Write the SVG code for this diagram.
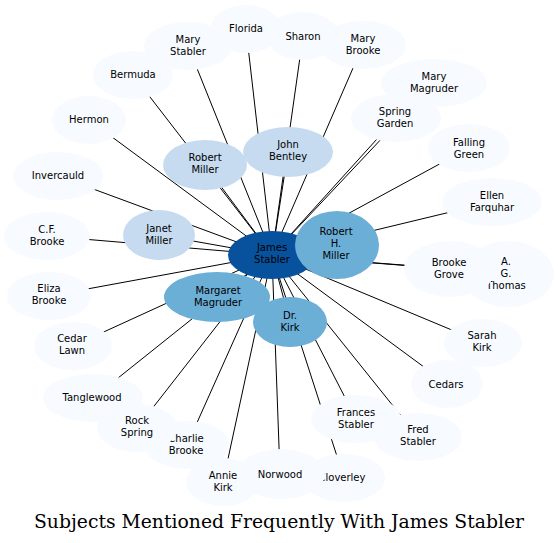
<svg xmlns="http://www.w3.org/2000/svg" width="559" height="543" viewBox="0 0 559 543">
<style>
.e line{stroke:#000;stroke-width:1}
.n ellipse{stroke:none}
.l0{fill:#f7fbff}
.l1{fill:#c6dbef}
.l2{fill:#6baed6}
.l3{fill:#08519c}
text{font-family:"DejaVu Sans","Noto Sans",sans-serif;font-size:10px;fill:#000;text-anchor:middle}
.title{font-family:"DejaVu Serif","Liberation Serif",serif;font-size:18px}
</style>
<rect width="559" height="543" fill="#fff"/>
<g id="edges" class="e">
<line x1="272" y1="255" x2="246" y2="29"/>
<line x1="272" y1="255" x2="188" y2="46"/>
<line x1="272" y1="255" x2="133" y2="75"/>
<line x1="272" y1="255" x2="89" y2="120"/>
<line x1="272" y1="255" x2="58" y2="176"/>
<line x1="272" y1="255" x2="47" y2="236"/>
<line x1="272" y1="255" x2="49" y2="296"/>
<line x1="272" y1="255" x2="73" y2="346"/>
<line x1="272" y1="255" x2="93" y2="398"/>
<line x1="272" y1="255" x2="137" y2="428"/>
<line x1="272" y1="255" x2="187" y2="445"/>
<line x1="272" y1="255" x2="223" y2="482"/>
<line x1="272" y1="255" x2="280" y2="474"/>
<line x1="272" y1="255" x2="344" y2="478"/>
<line x1="272" y1="255" x2="356" y2="419"/>
<line x1="272" y1="255" x2="418" y2="437"/>
<line x1="272" y1="255" x2="447" y2="384"/>
<line x1="272" y1="255" x2="483" y2="343"/>
<line x1="272" y1="255" x2="450" y2="269"/>
<line x1="272" y1="255" x2="507" y2="273"/>
<line x1="272" y1="255" x2="492" y2="202"/>
<line x1="272" y1="255" x2="469" y2="148"/>
<line x1="272" y1="255" x2="396" y2="118"/>
<line x1="272" y1="255" x2="434" y2="83"/>
<line x1="272" y1="255" x2="363" y2="45"/>
<line x1="272" y1="255" x2="303" y2="36"/>
<line x1="272" y1="255" x2="288" y2="152"/>
<line x1="272" y1="255" x2="205" y2="165"/>
<line x1="272" y1="255" x2="159" y2="235"/>
<line x1="272" y1="255" x2="217" y2="297"/>
<line x1="272" y1="255" x2="290" y2="322"/>
<line x1="272" y1="255" x2="337" y2="245"/>
</g>
<g class="n">
<g id="n-mary-stabler"><ellipse class="l0" cx="188" cy="46" rx="44" ry="24"/><text x="188" y="43">Mary</text><text x="188" y="55">Stabler</text></g>
<g id="n-florida"><ellipse class="l0" cx="246" cy="29" rx="36" ry="24"/><text x="246" y="32">Florida</text></g>
<g id="n-sharon"><ellipse class="l0" cx="303" cy="36" rx="36" ry="24"/><text x="303" y="40">Sharon</text></g>
<g id="n-mary-brooke"><ellipse class="l0" cx="363" cy="45" rx="43" ry="24"/><text x="363" y="42">Mary</text><text x="363" y="54">Brooke</text></g>
<g id="n-bermuda"><ellipse class="l0" cx="133" cy="75" rx="40" ry="24"/><text x="133" y="78">Bermuda</text></g>
<g id="n-hermon"><ellipse class="l0" cx="89" cy="120" rx="37" ry="24"/><text x="89" y="123">Hermon</text></g>
<g id="n-invercauld"><ellipse class="l0" cx="58" cy="176" rx="45" ry="24"/><text x="58" y="179">Invercauld</text></g>
<g id="n-mary-magruder"><ellipse class="l0" cx="434" cy="83" rx="53" ry="24"/><text x="434" y="80">Mary</text><text x="434" y="92">Magruder</text></g>
<g id="n-spring-garden"><ellipse class="l0" cx="396" cy="118" rx="45" ry="24"/><text x="395" y="115">Spring</text><text x="395" y="127">Garden</text></g>
<g id="n-falling-green"><ellipse class="l0" cx="469" cy="148" rx="41" ry="24"/><text x="469" y="146">Falling</text><text x="469" y="158">Green</text></g>
<g id="n-ellen-farquhar"><ellipse class="l0" cx="492" cy="202" rx="50" ry="24"/><text x="492" y="199">Ellen</text><text x="492" y="211">Farquhar</text></g>
<g id="n-cf-brooke"><ellipse class="l0" cx="47" cy="236" rx="43" ry="24"/><text x="47" y="233">C.F.</text><text x="47" y="245">Brooke</text></g>
<g id="n-eliza-brooke"><ellipse class="l0" cx="49" cy="296" rx="42" ry="24"/><text x="49" y="292">Eliza</text><text x="49" y="304">Brooke</text></g>
<g id="n-ag-thomas"><ellipse class="l0" cx="508" cy="274" rx="46" ry="33"/><text x="506" y="265">A.</text><text x="506" y="277">G.</text><text x="506" y="289">Thomas</text></g>
<g id="n-brooke-grove"><ellipse class="l0" cx="450" cy="269" rx="46" ry="28"/><text x="449" y="266">Brooke</text><text x="449" y="278">Grove</text></g>
<g id="n-sarah-kirk"><ellipse class="l0" cx="483" cy="343" rx="39" ry="24"/><text x="482" y="339">Sarah</text><text x="482" y="351">Kirk</text></g>
<g id="n-cedar-lawn"><ellipse class="l0" cx="73" cy="346" rx="39" ry="24"/><text x="72" y="342">Cedar</text><text x="72" y="354">Lawn</text></g>
<g id="n-cedars"><ellipse class="l0" cx="447" cy="384" rx="36" ry="24"/><text x="446" y="388">Cedars</text></g>
<g id="n-tanglewood"><ellipse class="l0" cx="93" cy="398" rx="50" ry="24"/><text x="92" y="401">Tanglewood</text></g>
<g id="n-frances-stabler"><ellipse class="l0" cx="356" cy="419" rx="45" ry="24"/><text x="356" y="416">Frances</text><text x="356" y="428">Stabler</text></g>
<g id="n-fred-stabler"><ellipse class="l0" cx="418" cy="437" rx="44" ry="24"/><text x="418" y="433">Fred</text><text x="418" y="445">Stabler</text></g>
<g id="n-charlie-brooke"><ellipse class="l0" cx="187" cy="445" rx="42" ry="24"/><text x="186" y="442">Charlie</text><text x="186" y="454">Brooke</text></g>
<g id="n-rock-spring"><ellipse class="l0" cx="137" cy="428" rx="40" ry="24"/><text x="137" y="424">Rock</text><text x="137" y="436">Spring</text></g>
<g id="n-annie-kirk"><ellipse class="l0" cx="223" cy="482" rx="37" ry="24"/><text x="223" y="479">Annie</text><text x="223" y="491">Kirk</text></g>
<g id="n-cloverley"><ellipse class="l0" cx="344" cy="478" rx="41" ry="24"/><text x="342" y="481">Cloverley</text></g>
<g id="n-norwood"><ellipse class="l0" cx="281" cy="474" rx="44" ry="25"/><text x="280" y="478">Norwood</text></g>
<g id="n-robert-miller"><ellipse class="l1" cx="205" cy="165" rx="42" ry="25"/><text x="205" y="161">Robert</text><text x="205" y="173">Miller</text></g>
<g id="n-john-bentley"><ellipse class="l1" cx="288" cy="152" rx="45" ry="25"/><text x="288" y="148">John</text><text x="288" y="160">Bentley</text></g>
<g id="n-janet-miller"><ellipse class="l1" cx="159" cy="235" rx="36" ry="25"/><text x="159" y="232">Janet</text><text x="159" y="244">Miller</text></g>
<g id="n-james-stabler"><ellipse class="l3" cx="272" cy="255" rx="44" ry="24"/><text x="272" y="251">James</text><text x="272" y="263">Stabler</text></g>
<g id="n-margaret-magruder"><ellipse class="l2" cx="217" cy="297" rx="53" ry="25"/><text x="218" y="294">Margaret</text><text x="218" y="306">Magruder</text></g>
<g id="n-dr-kirk"><ellipse class="l2" cx="290" cy="322" rx="37" ry="25"/><text x="290" y="319">Dr.</text><text x="290" y="331">Kirk</text></g>
<g id="n-robert-h-miller"><ellipse class="l2" cx="337" cy="245" rx="42" ry="34"/><text x="336" y="235">Robert</text><text x="336" y="247">H.</text><text x="336" y="259">Miller</text></g>
</g>
<text class="title" x="279" y="528" textLength="490" lengthAdjust="spacingAndGlyphs">Subjects Mentioned Frequently With James Stabler</text>
</svg>
